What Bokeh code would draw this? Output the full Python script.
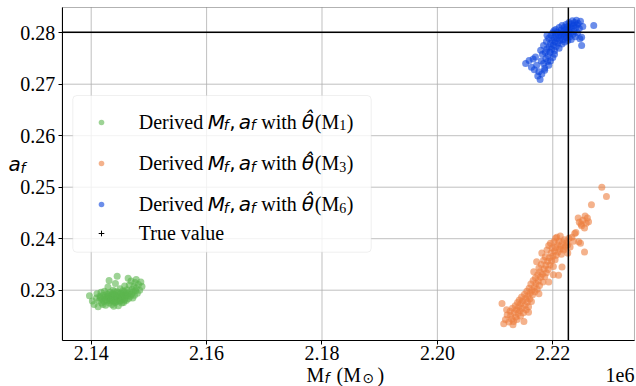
from bokeh.plotting import figure
from bokeh.models import (Range1d, FixedTicker, Label, BoxAnnotation,
                          Legend, LegendItem)
from bokeh.core.properties import value
from bokeh.embed import file_html
from bokeh.resources import INLINE

# Final mass M_f (units of 1e6 solar masses) and final spin a_f
mf_m1 = [2.1397, 2.1402, 2.1405, 2.1409, 2.1410, 2.1412, 2.1414, 2.1415, 2.1416, 2.1417,
         2.1418, 2.1419, 2.1420, 2.1421, 2.1422, 2.1423, 2.1424, 2.1425, 2.1426, 2.1427,
         2.1427, 2.1428, 2.1429, 2.1429, 2.1430, 2.1431, 2.1431, 2.1432, 2.1433, 2.1433,
         2.1434, 2.1435, 2.1435, 2.1436, 2.1437, 2.1437, 2.1438, 2.1439, 2.1439, 2.1440,
         2.1440, 2.1441, 2.1441, 2.1442, 2.1443, 2.1444, 2.1444, 2.1445, 2.1445, 2.1446,
         2.1446, 2.1447, 2.1448, 2.1448, 2.1449, 2.1449, 2.1450, 2.1451, 2.1452, 2.1452,
         2.1453, 2.1453, 2.1454, 2.1455, 2.1455, 2.1456, 2.1457, 2.1457, 2.1458, 2.1458,
         2.1459, 2.1460, 2.1461, 2.1461, 2.1462, 2.1463, 2.1464, 2.1464, 2.1465, 2.1466,
         2.1467, 2.1468, 2.1469, 2.1470, 2.1471, 2.1472, 2.1473, 2.1474, 2.1475, 2.1476,
         2.1477, 2.1478, 2.1478, 2.1480, 2.1482, 2.1484, 2.1486, 2.1488]
af_m1 = [0.2289, 0.2279, 0.2272, 0.2285, 0.2293, 0.2268, 0.2280, 0.2288, 0.2286, 0.2296,
         0.2275, 0.2283, 0.2272, 0.2290, 0.2278, 0.2298, 0.2286, 0.2271, 0.2282, 0.2293,
         0.2287, 0.2279, 0.2306, 0.2292, 0.2288, 0.2275, 0.2319, 0.2284, 0.2296, 0.2279,
         0.2281, 0.2290, 0.2284, 0.2272, 0.2286, 0.2293, 0.2300, 0.2279, 0.2269, 0.2292,
         0.2297, 0.2284, 0.2276, 0.2313, 0.2277, 0.2289, 0.2281, 0.2297, 0.2327, 0.2282,
         0.2287, 0.2270, 0.2291, 0.2295, 0.2286, 0.2279, 0.2303, 0.2279, 0.2294, 0.2283,
         0.2288, 0.2275, 0.2283, 0.2299, 0.2291, 0.2276, 0.2290, 0.2297, 0.2308, 0.2281,
         0.2285, 0.2295, 0.2280, 0.2290, 0.2301, 0.2289, 0.2293, 0.2323, 0.2284, 0.2310,
         0.2297, 0.2288, 0.2318, 0.2292, 0.2302, 0.2285, 0.2297, 0.2307, 0.2290, 0.2315,
         0.2299, 0.2304, 0.2321, 0.2294, 0.2311, 0.2300, 0.2316, 0.2307]

mf_m3 = [2.2112, 2.2115, 2.2118, 2.2121, 2.2124, 2.2126, 2.2127, 2.2129, 2.2130, 2.2131,
         2.2132, 2.2133, 2.2135, 2.2136, 2.2137, 2.2138, 2.2139, 2.2140, 2.2141, 2.2142,
         2.2143, 2.2144, 2.2145, 2.2146, 2.2147, 2.2148, 2.2149, 2.2150, 2.2151, 2.2152,
         2.2153, 2.2154, 2.2155, 2.2156, 2.2157, 2.2158, 2.2159, 2.2160, 2.2161, 2.2162,
         2.2163, 2.2164, 2.2165, 2.2166, 2.2167, 2.2168, 2.2169, 2.2170, 2.2171, 2.2172,
         2.2173, 2.2174, 2.2175, 2.2176, 2.2177, 2.2178, 2.2179, 2.2180, 2.2181, 2.2182,
         2.2183, 2.2184, 2.2185, 2.2186, 2.2187, 2.2188, 2.2189, 2.2190, 2.2191, 2.2192,
         2.2193, 2.2193, 2.2194, 2.2195, 2.2196, 2.2197, 2.2198, 2.2199, 2.2200, 2.2201,
         2.2202, 2.2203, 2.2204, 2.2205, 2.2205, 2.2206, 2.2207, 2.2208, 2.2209, 2.2210,
         2.2211, 2.2212, 2.2213, 2.2214, 2.2215, 2.2216, 2.2217, 2.2218, 2.2219, 2.2220,
         2.2222, 2.2224, 2.2226, 2.2228, 2.2230, 2.2233, 2.2236, 2.2240, 2.2244, 2.2245,
         2.2246, 2.2248, 2.2249, 2.2250, 2.2252, 2.2255, 2.2255, 2.2256, 2.2258, 2.2260,
         2.2262, 2.2267, 2.2285, 2.2293, 2.2120, 2.2158, 2.2176, 2.2201, 2.2226, 2.2238]
af_m3 = [0.2274, 0.2235, 0.2243, 0.2252, 0.2238, 0.2259, 0.2251, 0.2244, 0.2265, 0.2233,
         0.2239, 0.2256, 0.2270, 0.2248, 0.2262, 0.2243, 0.2276, 0.2255, 0.2268, 0.2281,
         0.2260, 0.2250, 0.2274, 0.2287, 0.2265, 0.2279, 0.2256, 0.2239, 0.2292, 0.2271,
         0.2284, 0.2262, 0.2298, 0.2277, 0.2289, 0.2268, 0.2304, 0.2283, 0.2295, 0.2312,
         0.2278, 0.2300, 0.2291, 0.2319, 0.2336, 0.2306, 0.2297, 0.2324, 0.2313, 0.2355,
         0.2302, 0.2330, 0.2318, 0.2343, 0.2309, 0.2336, 0.2325, 0.2350, 0.2372, 0.2331,
         0.2316, 0.2358, 0.2341, 0.2326, 0.2365, 0.2348, 0.2334, 0.2378, 0.2356, 0.2340,
         0.2387, 0.2316, 0.2363, 0.2349, 0.2391, 0.2372, 0.2357, 0.2382, 0.2366, 0.2346,
         0.2394, 0.2376, 0.2359, 0.2401, 0.2383, 0.2368, 0.2403, 0.2388, 0.2374, 0.2329,
         0.2395, 0.2380, 0.2405, 0.2386, 0.2370, 0.2345, 0.2393, 0.2381, 0.2378, 0.2398,
         0.2385, 0.2392, 0.2388, 0.2401, 0.2384, 0.2403, 0.2395, 0.2412, 0.2440, 0.2394,
         0.2432, 0.2391, 0.2428, 0.2425, 0.2436, 0.2421, 0.2374, 0.2444, 0.2430, 0.2440,
         0.2433, 0.2466, 0.2500, 0.2482, 0.2262, 0.2257, 0.2293, 0.2330, 0.2372, 0.2410]

mf_m6 = [2.2153, 2.2159, 2.2166, 2.2170, 2.2172, 2.2176, 2.2178, 2.2179, 2.2180, 2.2182,
         2.2184, 2.2184, 2.2186, 2.2187, 2.2188, 2.2189, 2.2190, 2.2190, 2.2191, 2.2192,
         2.2193, 2.2193, 2.2194, 2.2195, 2.2196, 2.2197, 2.2198, 2.2199, 2.2200, 2.2200,
         2.2201, 2.2202, 2.2202, 2.2203, 2.2204, 2.2205, 2.2205, 2.2206, 2.2207, 2.2208,
         2.2209, 2.2210, 2.2211, 2.2211, 2.2212, 2.2213, 2.2214, 2.2215, 2.2216, 2.2216,
         2.2217, 2.2218, 2.2219, 2.2220, 2.2220, 2.2221, 2.2222, 2.2223, 2.2223, 2.2224,
         2.2225, 2.2226, 2.2226, 2.2227, 2.2228, 2.2228, 2.2229, 2.2230, 2.2231, 2.2232,
         2.2232, 2.2233, 2.2234, 2.2235, 2.2236, 2.2237, 2.2238, 2.2239, 2.2240, 2.2241,
         2.2242, 2.2243, 2.2244, 2.2246, 2.2247, 2.2248, 2.2250, 2.2250, 2.2252, 2.2271,
         2.2163, 2.2168, 2.2174, 2.2181, 2.2186, 2.2196, 2.2203]
af_m6 = [0.2740, 0.2746, 0.2749, 0.2753, 0.2737, 0.2724, 0.2709, 0.2766, 0.2745, 0.2758,
         0.2740, 0.2775, 0.2731, 0.2762, 0.2750, 0.2783, 0.2769, 0.2795, 0.2744, 0.2756,
         0.2737, 0.2789, 0.2772, 0.2762, 0.2779, 0.2795, 0.2768, 0.2785, 0.2752, 0.2800,
         0.2776, 0.2790, 0.2804, 0.2765, 0.2782, 0.2806, 0.2795, 0.2773, 0.2788, 0.2801,
         0.2780, 0.2794, 0.2810, 0.2770, 0.2785, 0.2799, 0.2791, 0.2805, 0.2778, 0.2814,
         0.2796, 0.2787, 0.2803, 0.2810, 0.2793, 0.2782, 0.2799, 0.2816, 0.2806, 0.2790,
         0.2801, 0.2812, 0.2785, 0.2796, 0.2820, 0.2805, 0.2792, 0.2811, 0.2800, 0.2817,
         0.2787, 0.2808, 0.2823, 0.2797, 0.2814, 0.2803, 0.2820, 0.2792, 0.2810, 0.2824,
         0.2815, 0.2800, 0.2818, 0.2808, 0.2788, 0.2822, 0.2791, 0.2775, 0.2812, 0.2814,
         0.2733, 0.2728, 0.2716, 0.2720, 0.2727, 0.2745, 0.2758]

# True remnant parameters
true_mf = [2.2227]
true_af = [0.2801]

x_ticks = [2.14, 2.16, 2.18, 2.20, 2.22]
x_tick_labels = ["2.14", "2.16", "2.18", "2.20", "2.22"]
y_ticks = [0.23, 0.24, 0.25, 0.26, 0.27, 0.28]
y_tick_labels = ["0.23", "0.24", "0.25", "0.26", "0.27", "0.28"]

# axes box (data limits) and the full canvas extent
BOX_L, BOX_R = 2.13497, 2.23416
BOX_B, BOX_T = 0.22023, 0.28489
VIEW_X = (2.12428, 2.23451)
VIEW_Y = (0.21130, 0.28625)

GREEN = "#5cb64e"
ORANGE = "#ec7f40"
BLUE = "#0a43dc"
ALPHA = 0.6
SERIF = "Liberation Serif"
SANS = "DejaVu Sans"
FS = 20            # main font size in px
SUB = 14           # subscript size in px
W, H = 636, 386
TEXT_LIFT = 7      # baseline correction for labels

p = figure(width=W, height=H, output_backend="svg", toolbar_location=None,
           x_range=Range1d(*VIEW_X), y_range=Range1d(*VIEW_Y),
           min_border=0, min_border_left=0, min_border_right=0,
           min_border_top=0, min_border_bottom=0)
p.background_fill_color = "white"
p.border_fill_color = "white"
p.outline_line_color = None
p.grid.visible = False

xa, ya = p.xaxis[0], p.yaxis[0]
xa.fixed_location = BOX_B
xa.bounds = (BOX_L, BOX_R)
ya.fixed_location = BOX_L
ya.bounds = (BOX_B, BOX_T)
for ax in (xa, ya):
    ax.axis_line_color = "black"
    ax.major_tick_line_color = "black"
    ax.major_tick_out = 4
    ax.major_tick_in = 0
    ax.minor_tick_out = 0
    ax.minor_tick_in = 0
    ax.major_label_text_font = SERIF
    ax.major_label_text_font_size = f"{FS}px"
    ax.major_label_text_color = "black"
xa.ticker = FixedTicker(ticks=x_ticks)
xa.major_label_overrides = dict(zip(x_ticks, x_tick_labels))
xa.major_label_standoff = 1
ya.ticker = FixedTicker(ticks=y_ticks)
ya.major_label_overrides = dict(zip(y_ticks, y_tick_labels))
ya.major_label_standoff = 3

# grid lines inside the axes box
p.segment(x0=x_ticks, x1=x_ticks, y0=[BOX_B] * len(x_ticks), y1=[BOX_T] * len(x_ticks),
          line_color="#b0b0b0", line_width=0.8)
p.segment(x0=[BOX_L] * len(y_ticks), x1=[BOX_R] * len(y_ticks), y0=y_ticks, y1=y_ticks,
          line_color="#b0b0b0", line_width=0.8)

# true value marker sits underneath the samples
r_true = p.scatter(true_mf, true_af, marker="cross", size=7, line_color="black", line_width=1)
r1 = p.scatter(mf_m1, af_m1, size=7, fill_color=GREEN, fill_alpha=ALPHA, line_color=None)
r3 = p.scatter(mf_m3, af_m3, size=7, fill_color=ORANGE, fill_alpha=ALPHA, line_color=None)
r6 = p.scatter(mf_m6, af_m6, size=7, fill_color=BLUE, fill_alpha=ALPHA, line_color=None)

# true value cross-hair
p.segment(x0=true_mf, x1=true_mf, y0=[BOX_B], y1=[BOX_T], line_color="black", line_width=1.5)
p.segment(x0=[BOX_L], x1=[BOX_R], y0=true_af, y1=true_af, line_color="black", line_width=1.5)

# axes frame
p.add_layout(BoxAnnotation(left=BOX_L, right=BOX_R, bottom=BOX_B, top=BOX_T,
                           fill_alpha=0, line_color="black", line_width=1))


def sy(cy):
    return H - cy


# legend frame
p.add_layout(BoxAnnotation(left=72.3, right=370.7, top=sy(95), bottom=sy(251.7),
                           left_units="screen", right_units="screen",
                           top_units="screen", bottom_units="screen",
                           fill_color="white", fill_alpha=0.8,
                           line_color="#cccccc", line_width=1, border_radius=4))

# legend keys
common = dict(glyph_width=14, glyph_height=14, label_height=14, label_width=0,
              label_standoff=0, padding=0, margin=0, background_fill_alpha=0,
              border_line_color=None, label_text_font_size="1px", orientation="vertical")
leg_a = Legend(items=[LegendItem(label=value(""), renderers=[r1]),
                      LegendItem(label=value(""), renderers=[r3]),
                      LegendItem(label=value(""), renderers=[r6])],
               location=(100.7 - 7, sy(204 + 7)), spacing=27, **common)
leg_b = Legend(items=[LegendItem(label=value(""), renderers=[r_true])],
               location=(100.7 - 7, sy(233.3 + 7)), spacing=0, **common)
p.add_layout(leg_a)
p.add_layout(leg_b)


def put(txt, cx, cy, font=SERIF, size=FS, style="normal", align="left"):
    p.add_layout(Label(x=cx, y=sy(cy - TEXT_LIFT), x_units="screen", y_units="screen",
                       text=txt, text_font=font, text_font_size=f"{size}px",
                       text_font_style=style, text_align=align,
                       text_baseline="alphabetic", text_color="black"))


# legend entries
x0 = 138.3
for row_y, idx in ((121.7, "1"), (163.3, "3"), (204.0, "6")):
    base = row_y + 6.5
    put("Derived", x0, base)
    put("M", x0 + 69, base, SANS, FS, "italic")
    put("f", x0 + 85, base + 3.5, SANS, SUB, "italic")
    put(",", x0 + 90.5, base, SANS, FS)
    put("a", x0 + 100, base, SANS, FS, "italic")
    put("f", x0 + 112, base + 3.5, SANS, SUB, "italic")
    put("with", x0 + 122.5, base)
    put("\u03b8\u0302", x0 + 163, base, SANS, FS, "italic")
    put("(M", x0 + 176, base)
    put(idx, x0 + 200.5, base + 3.5, SERIF, SUB)
    put(")", x0 + 208, base)
put("True value", x0, 233.3 + 6.5)

# y-axis label a_f
put("a", 8, 170, SANS, FS, "italic")
put("f", 20, 174, SANS, SUB, "italic")

# x-axis label M_f (M_sun)
put("M", 306, 381)
put("f", 324, 384.5, SANS, SUB, "italic")
put("(M", 336, 381)
put("\u2299", 362, 384.5, SANS, SUB)
put(")", 377, 381)

# offset text
put("1e6", 634, 381, align="right")

open("out.html", "w").write(file_html(p, INLINE))
